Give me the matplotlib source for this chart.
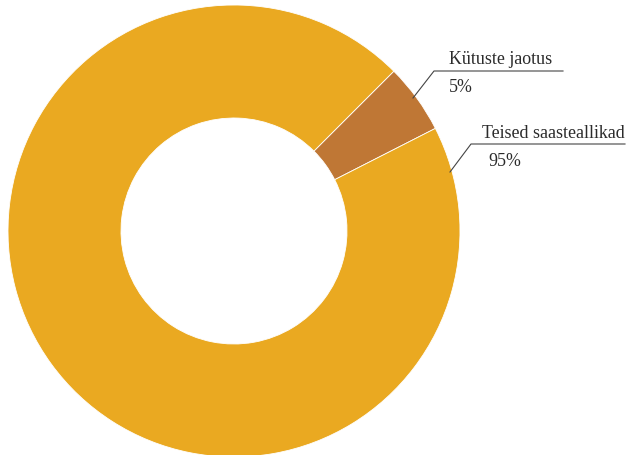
import matplotlib
matplotlib.use("Agg")
from matplotlib import pyplot as plt

labels = ["Kütuste jaotus", "Teised saasteallikad"]
values = [5, 95]
pct_labels = ["5%", "95%"]
colors = ["#BF7735", "#EAA921"]

W, H = 628, 455

fig = plt.figure(figsize=(W / 100, H / 100), dpi=100)
ax = fig.add_axes([0, 0, 1, 1])

# slices go clockwise from 45 degrees, small slice first
ax.pie(values, colors=colors, startangle=45, counterclock=False,
       center=(234, H - 231), radius=226, frame=True,
       wedgeprops=dict(width=113, edgecolor='white', linewidth=0.6))
ax.set_xlim(0, W)
ax.set_ylim(0, H)
ax.set_aspect('equal')
ax.axis('off')

# leader lines and labels (pixel coords, top-left origin)
leaders = [
    [(413, 98), (434, 71), (563, 71)],
    [(450, 172), (471, 144), (625, 144)],
]
name_pos = [(449, 64), (482, 138)]
pct_pos = [(449, 92), (488, 166)]

txt = dict(family='Liberation Serif', fontsize=12.9, color='#2b2b2b')
for pts, lab, pct, npos, ppos in zip(leaders, labels, pct_labels, name_pos, pct_pos):
    xs = [p[0] for p in pts]
    ys = [H - p[1] for p in pts]
    ax.plot(xs, ys, color='#444444', linewidth=0.8)
    ax.text(npos[0], H - npos[1], lab, ha='left', va='baseline', **txt)
    ax.text(ppos[0], H - ppos[1], pct, ha='left', va='baseline', **txt)

fig.savefig("out.png", dpi=100)
